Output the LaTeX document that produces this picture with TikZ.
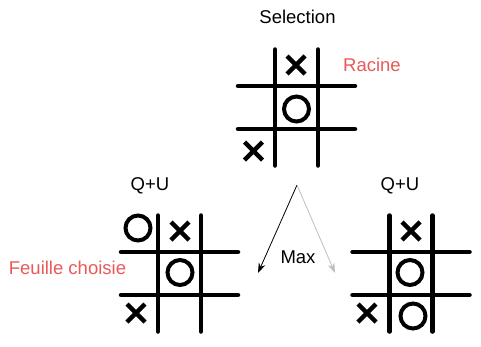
\documentclass[tikz,border=0pt]{standalone}
\usepackage{fontspec}
\setmainfont{Liberation Sans}
\usetikzlibrary{arrows.meta,positioning}
\definecolor{labelred}{RGB}{234,88,88}
\definecolor{softgray}{RGB}{190,190,190}

% one mark in a cell, given its centre
\newcommand{\crossat}[1]{\draw[cross] (#1) +(-9,-9) -- +(9,9) +(-9,9) -- +(9,-9);}
\newcommand{\noughtat}[1]{\draw[nought] (#1) circle (12.5);}

\begin{document}
\begin{tikzpicture}[
    x=1pt, y=-1pt,
    txt/.style={font=\fontsize{18.5}{20}\selectfont, inner sep=0pt},
    grid/.style={line width=4.5pt, line cap=round},
    cross/.style={line width=4.5pt},
    nought/.style={line width=4pt},
    arrow/.style={-{Stealth[length=10pt,width=7pt]}, line width=0.8pt},
    ttt/.pic={
        \draw[grid] (-21.5,-58) -- (-21.5,58) (21.5,-58) -- (21.5,58)
                    (-58.5,-21.5) -- (58.5,-21.5) (-58.5,21.5) -- (58.5,21.5);
    }
]
    \useasboundingbox (0,0) rectangle (481,346);

    % root board
    \pic at (296.5,107.5) {ttt};
    \crossat{296,65}
    \noughtat{296.5,109}
    \crossat{253.5,151}
    \node[txt] (sel) at (297.5,17) {Selection};
    \node[txt, labelred] (racine) at (372,65) {Racine};

    % chosen leaf
    \pic at (179.5,273.5) {ttt};
    \noughtat{138,228}
    \crossat{180,231}
    \noughtat{180,272.5}
    \crossat{136,313}
    \node[txt] (qul) at (150,186) {Q+U};
    \node[txt, labelred] (leaf) at (67.5,268) {Feuille choisie};

    % other child
    \pic at (411,273.5) {ttt};
    \crossat{411,231}
    \noughtat{410,272.5}
    \crossat{367,313}
    \noughtat{413,316}
    \node[txt] (qur) at (400,186) {Q+U};

    % selection arrows
    \coordinate (split) at (297,185);
    \coordinate (best) at (258,273);
    \coordinate (other) at (335,273);
    \draw[arrow] (split) -- (best);
    \draw[arrow, softgray] (split) -- (other);
    \node[txt] (max) at (298,257) {Max};
\end{tikzpicture}
\end{document}
